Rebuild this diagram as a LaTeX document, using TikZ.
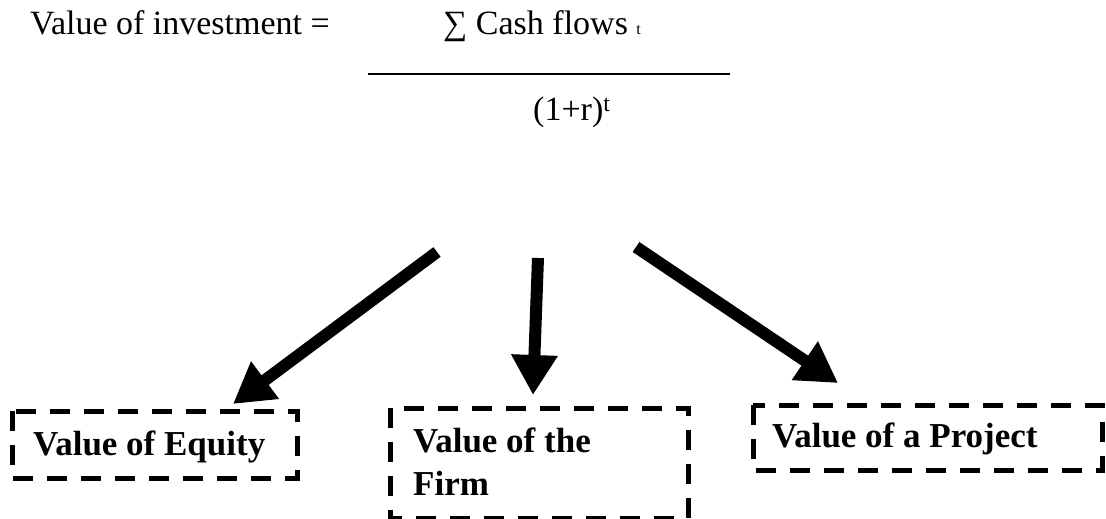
\documentclass[tikz,border=0pt]{standalone}
\usepackage{fontspec}
\setmainfont{Liberation Serif}
\usetikzlibrary{arrows.meta}
\tikzset{
  plain/.style={inner sep=0pt, font=\fontsize{34}{40}\selectfont},
  dbox/.style={draw, line width=5pt, dash pattern=on 20pt off 14pt},
  lbl/.style={inner sep=0pt, font=\bfseries\fontsize{35}{43}\selectfont, align=left},
  bigarrow/.style={line width=12pt, -{Triangle[length=40pt,width=44pt]}},
  frac/.style={line width=2.2pt}
}
\begin{document}
\begin{tikzpicture}[x=1pt,y=-1pt]
\useasboundingbox (0,0) rectangle (1106,519);
\node[plain, anchor=base west] (lhs) at (30,35) {Value of investment =};
\node[plain, anchor=base west] (num) at (443,35) {∑ Cash flows {\fontsize{16}{18}\selectfont t}};
\coordinate (fl) at (368,74);
\coordinate (fr) at (730,74);
\draw[frac] (fl) -- (fr);
\node[plain, anchor=base west] (den) at (533,121) {(1+r)\textsuperscript{t}};

\draw[dbox] (12,411) rectangle (297,478);
\node[lbl, anchor=base west] (eq) at (33,455) {Value of Equity};
\draw[dbox] (390,408) rectangle (688,518);
\node[lbl, anchor=base west] (firm) at (413,495) {Value of the\\Firm};
\draw[dbox] (753,405) rectangle (1102,470);
\node[lbl, anchor=base west] (proj) at (772,447) {Value of a Project};

\coordinate (t1) at (437,252);
\coordinate (h1) at (233,404);
\coordinate (t2) at (538,258);
\coordinate (h2) at (533,395);
\coordinate (t3) at (636,247);
\coordinate (h3) at (838,383);
\draw[bigarrow] (t1) -- (h1);
\draw[bigarrow] (t2) -- (h2);
\draw[bigarrow] (t3) -- (h3);
\end{tikzpicture}
\end{document}
